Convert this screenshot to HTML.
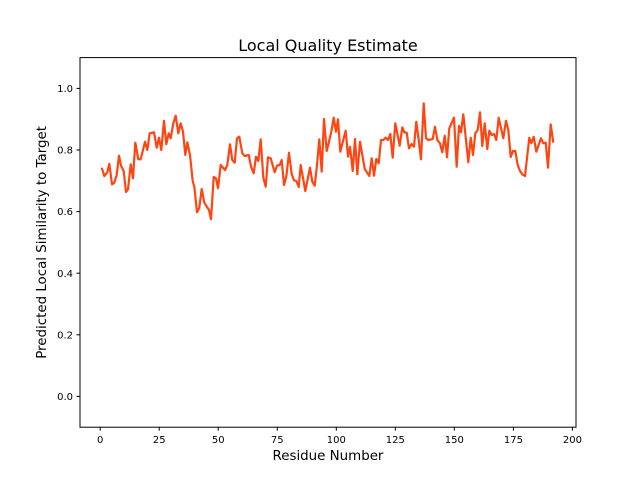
<!DOCTYPE html>
<html><head><meta charset="utf-8"><style>body{margin:0;background:#fff}svg{display:block}text{font-family:"DejaVu Sans","Liberation Sans",sans-serif;fill:#000}</style></head><body>
<svg width="640" height="480" viewBox="0 0 640 480" xmlns="http://www.w3.org/2000/svg">
<rect width="640" height="480" fill="#fff"/>
<polyline fill="none" stroke="#ff4512" stroke-width="2.2" stroke-linejoin="round" points="101.7,167.7 104.3,176 107.3,172.3 109.3,163.7 112,184.3 114.3,182.7 116.7,175 119,155.7 121,165.7 123.7,171 126,192 128,189.3 130.7,164.3 133,178.3 135.3,142.7 138.3,159.3 140.7,159.3 145,141.7 147.3,150 149.7,133.3 154,132.3 156.7,147.7 159,137.7 161.3,150 164,120.7 166.3,144.3 168.7,133.3 170.7,138.3 173.3,123.3 175.7,115.7 178.3,133.3 180.7,123.3 183,131.7 185.3,155 187.3,142.3 190,155 192.7,181 194.3,186.7 197,212.3 199.3,207.7 201.7,189 204.3,202.7 209,210 211,219.3 213.7,177 216,178.3 218,188.3 220.7,165 225,170 227.3,165 230,144.3 232.3,160 234.7,162.7 237,138.3 239.3,136.7 242.3,153.3 244.7,156 248.7,155 251.3,167.7 253.7,173.3 256,156.7 258.3,161 260.7,139.3 263.3,177.7 265.7,186.7 268,157.3 270.7,158.3 274.7,172.3 277,165.7 279.7,165 281.7,160 284,185 286.3,176.7 289,152.7 291.7,174.3 294,180.3 296.3,181 298.7,187 300.7,165 305.3,191 310,167.7 312.3,181.7 314.7,185.7 317,165 319.3,139.3 321.7,171.7 324,119 326.7,151 329,141.7 331.3,131.7 333.7,117.7 336,131.7 338,119.3 340.3,151.7 345.7,130.7 348,156.7 350,146.7 352.7,171 355,139 357.3,174.3 360,141.7 364.7,169 369.3,176 371.7,158.3 374,175.7 376.3,159 378.7,163.3 381,140 383.3,140 385.7,137.7 388,140 390.3,134 392.7,157.7 395.3,123.3 399.7,145.7 402.3,127.3 404.3,132.3 406.7,132.7 409,148.3 411.7,144 414,146.7 416.3,121.7 418.7,140 421,159.3 423.7,103.3 426,138.3 428.3,140 432.7,139 435,126.7 437.3,140 440,143.3 442.3,152.3 444.7,135.7 447,157.3 449.3,128.3 454,117.7 456.7,166.7 459,126 461,132.3 463.3,114.3 468.3,162.3 470.7,137.7 473,155 475.3,133.3 477.7,130 480,112.3 482.3,146 484.7,123.3 487.3,149 489.3,130.7 491.7,135 494,134 496.3,140 498.7,117.7 503.3,138.3 506,120.7 508.3,130 510.7,157 513,151 515.3,151 517.7,165 520,171 522.3,174.3 525,176 529.3,137.7 531.3,143.3 533.7,136.7 536.3,151.7 541,138.3 543.3,143.3 545.7,142.7 548,167.7 550.7,124.3 553.3,142.7"/>
<rect x="80" y="57.6" width="496" height="369.6" fill="none" stroke="#000" stroke-width="1"/>
<g stroke="#000" stroke-width="1">
<line x1="100.2" y1="427.2" x2="100.2" y2="430.7"/><line x1="159.2" y1="427.2" x2="159.2" y2="430.7"/><line x1="218.2" y1="427.2" x2="218.2" y2="430.7"/><line x1="277.3" y1="427.2" x2="277.3" y2="430.7"/><line x1="336.3" y1="427.2" x2="336.3" y2="430.7"/><line x1="395.3" y1="427.2" x2="395.3" y2="430.7"/><line x1="454.3" y1="427.2" x2="454.3" y2="430.7"/><line x1="513.4" y1="427.2" x2="513.4" y2="430.7"/><line x1="572.4" y1="427.2" x2="572.4" y2="430.7"/>
<line x1="76.5" y1="396.4" x2="80" y2="396.4"/><line x1="76.5" y1="334.8" x2="80" y2="334.8"/><line x1="76.5" y1="273.2" x2="80" y2="273.2"/><line x1="76.5" y1="211.6" x2="80" y2="211.6"/><line x1="76.5" y1="150" x2="80" y2="150"/><line x1="76.5" y1="88.4" x2="80" y2="88.4"/>
</g>
<g font-size="10" text-anchor="middle">
<text x="100.2" y="443">0</text><text x="159.2" y="443">25</text><text x="218.2" y="443">50</text><text x="277.3" y="443">75</text><text x="336.3" y="443">100</text><text x="395.3" y="443">125</text><text x="454.3" y="443">150</text><text x="513.4" y="443">175</text><text x="572.4" y="443">200</text>
</g>
<g font-size="10" text-anchor="end">
<text x="73" y="400">0.0</text><text x="73" y="338.4">0.2</text><text x="73" y="276.8">0.4</text><text x="73" y="215.2">0.6</text><text x="73" y="153.6">0.8</text><text x="73" y="92">1.0</text>
</g>
<text x="328" y="460" font-size="13.4" text-anchor="middle">Residue Number</text>
<text transform="translate(46,242.4) rotate(-90)" font-size="13.4" text-anchor="middle">Predicted Local Similarity to Target</text>
<text x="328" y="51" font-size="16" text-anchor="middle">Local Quality Estimate</text>
</svg>
</body></html>
